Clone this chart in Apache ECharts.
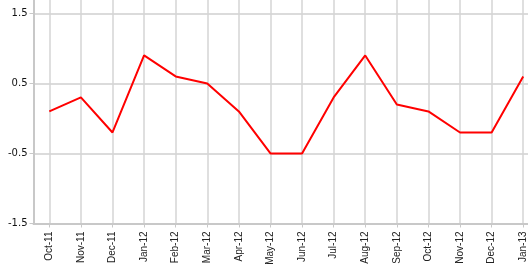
<!DOCTYPE html>
<html>
<head>
<meta charset="utf-8">
<script src="https://cdn.jsdelivr.net/npm/echarts@6/dist/echarts.min.js"></script>
<style>html,body{margin:0;padding:0;background:#fff}#c{width:528px;height:265px}</style>
</head>
<body>
<div id="c"></div>
<script>
const categories = ['Oct-11','Nov-11','Dec-11','Jan-12','Feb-12','Mar-12','Apr-12','May-12','Jun-12','Jul-12','Aug-12','Sep-12','Oct-12','Nov-12','Dec-12','Jan-13'];
const values = [0.1, 0.3, -0.2, 0.9, 0.6, 0.5, 0.1, -0.5, -0.5, 0.3, 0.9, 0.2, 0.1, -0.2, -0.2, 0.6];
const yTicks = [-1.5, -0.5, 0.5, 1.5];

const chart = echarts.init(document.getElementById('c'), null, {renderer: 'canvas'});
chart.setOption({
  animation: false,
  grid: {left: 33.5, right: -11, top: -2, bottom: 41.5, containLabel: false, outerBoundsMode: 'none'},
  xAxis: {
    type: 'category',
    data: categories,
    boundaryGap: true,
    axisLine: {onZero: false, lineStyle: {color: '#c8c8c8', width: 2}},
    axisTick: {show: true, alignWithLabel: true, length: 4, lineStyle: {color: '#c8c8c8', width: 1}},
    splitLine: {show: true, alignWithLabel: true, lineStyle: {color: '#d4d4d4', width: 1.5}},
    axisLabel: {rotate: 90, interval: 0, margin: 8, fontFamily: 'Liberation Sans', fontSize: 10, color: '#222'}
  },
  yAxis: {
    type: 'value',
    min: -1.5,
    max: 1.72,
    interval: 1,
    axisLine: {show: true, onZero: false, lineStyle: {color: '#c8c8c8', width: 2}},
    axisTick: {show: true, length: 4, lineStyle: {color: '#c8c8c8', width: 1}},
    splitLine: {show: true, lineStyle: {color: '#cfcfcf', width: 1.5}},
    axisLabel: {
      showMaxLabel: false,
      margin: 6,
      fontFamily: 'DejaVu Sans', fontSize: 10, color: '#111',
      formatter: function (v) {
        const hit = yTicks.find(t => Math.abs(t - v) < 1e-6);
        return hit === undefined ? '' : String(hit);
      }
    }
  },
  series: [{
    type: 'line',
    data: values,
    showSymbol: false,
    symbol: 'none',
    lineStyle: {color: '#ff0000', width: 2},
    itemStyle: {color: '#ff0000'}
  }]
});
</script>
</body>
</html>
